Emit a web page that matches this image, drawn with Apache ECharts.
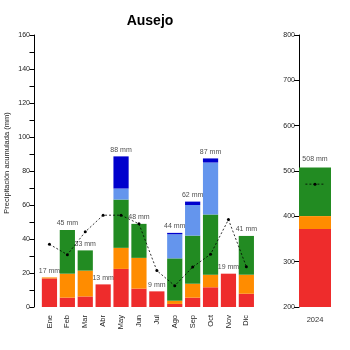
<!DOCTYPE html>
<html><head><meta charset="utf-8">
<script src="https://cdn.jsdelivr.net/npm/echarts@6/dist/echarts.min.js"></script>
<style>html,body{margin:0;padding:0;background:#fff}#c{width:350px;height:350px}</style>
</head><body><div id="c"></div>
<script>
const months = ['Ene','Feb','Mar','Abr','May','Jun','Jul','Ago','Sep','Oct','Nov','Dic'];
const red    = [16.8, 5.5, 6.2, 13.3, 22.4, 10.8, 9.2, 1.8, 5.5, 11.6, 19.6, 7.8];
const orange = [0.6, 14.1, 15.2, 0, 12.4, 18.1, 0, 1.9, 8.2, 7.4, 0, 11.2];
const green  = [0, 25.7, 11.9, 0, 28.4, 20.0, 0, 24.9, 28.3, 35.4, 0, 22.8];
const lblue  = [0, 0, 0, 0, 6.5, 0, 0, 14.2, 18.0, 30.6, 0, 0];
const dblue  = [0, 0, 0, 0, 18.9, 0, 0, 0.8, 2.0, 2.4, 0, 0];
const totalsLabel = [17, 45, 33, 13, 88, 48, 9, 44, 62, 87, 19, 41];
const normal = [36.9, 30.8, 44.2, 54.0, 54.0, 48.9, 21.4, 12.5, 23.5, 31.0, 51.4, 23.7];
const yearCat = ['2024'];
const yearRed = [372];
const yearOrange = [28.5];
const yearGreen = [107];
const yearTotalLabel = [508];
const yearNormal = 471;
const leftTicks = [0, 20, 40, 60, 80, 100, 120, 140, 160];
const rightTicks = [200, 300, 400, 500, 600, 700, 800];

const C = {red:'#EE2C2C', orange:'#FF8C00', green:'#228B22', lblue:'#6495ED', dblue:'#0000CD'};
const font = 'Liberation Sans, Arial, sans-serif';
const totals = months.map((m,i)=>red[i]+orange[i]+green[i]+lblue[i]+dblue[i]);
const yTotal = yearRed[0]+yearOrange[0]+yearGreen[0];

const chart = echarts.init(document.getElementById('c'), null, {renderer:'canvas'});
function bar(name, data, color, xi, yi, stack){
  return {type:'bar', name, data, stack, xAxisIndex:xi, yAxisIndex:yi,
    itemStyle:{color}, barCategoryGap: xi===0 ? '15%' : '0%', silent:true, animation:false};
}
chart.setOption({
  animation:false,
  title:{text:'Ausejo', left:145, top:9, textAlign:'center',
    textStyle:{fontFamily:font, fontWeight:'bold', fontSize:14, color:'#000'}},
  graphic:[{type:'text', x:7, y:163, rotation:Math.PI/2,
    style:{text:'Precipitación acumulada (mm)', font:'7.5px '+font, fill:'#222', align:'center', verticalAlign:'middle'}}],
  grid:[{left:40.5, top:35, width:214.8, height:272},
        {left:299, top:35, width:32, height:272}],
  xAxis:[
    {type:'category', gridIndex:0, data:months, axisLine:{show:false}, axisTick:{show:false},
     axisLabel:{rotate:90, fontSize:7.5, color:'#222', fontFamily:font, margin:8, interval:0}},
    {type:'category', gridIndex:1, data:yearCat, axisLine:{show:false}, axisTick:{show:false},
     axisLabel:{fontSize:7.5, color:'#333', fontFamily:font, margin:9}},
    {type:'value', gridIndex:1, min:0, max:1, show:false}
  ],
  yAxis:[
    {type:'value', gridIndex:0, min:leftTicks[0], max:leftTicks[leftTicks.length-1], interval:10, offset:6.5,
     splitLine:{show:false},
     axisLine:{show:true, lineStyle:{color:'#000', width:1}},
     axisTick:{show:true, length:4.5, lineStyle:{color:'#000'}},
     axisLabel:{fontSize:7, color:'#222', fontFamily:font, margin:4,
       formatter:v=>leftTicks.includes(v)?String(v):''}},
    {type:'value', gridIndex:1, min:rightTicks[0], max:rightTicks[rightTicks.length-1], interval:100,
     splitLine:{show:false},
     axisLine:{show:true, lineStyle:{color:'#000', width:1}},
     axisTick:{show:true, length:5, lineStyle:{color:'#000'}},
     axisLabel:{fontSize:7, color:'#222', fontFamily:font, margin:4,
       formatter:v=>rightTicks.includes(v)?String(v):''}}
  ],
  series:[
    bar('r', red, C.red, 0, 0, 'm'),
    bar('o', orange, C.orange, 0, 0, 'm'),
    bar('g', green, C.green, 0, 0, 'm'),
    bar('lb', lblue, C.lblue, 0, 0, 'm'),
    bar('db', dblue, C.dblue, 0, 0, 'm'),
    {type:'scatter', xAxisIndex:0, yAxisIndex:0, symbolSize:0, data:totals, silent:true,
     label:{show:true, position:'top', distance:3, fontSize:7, color:'#222', fontFamily:font,
       formatter:p=>totalsLabel[p.dataIndex]+' mm'}},
    {type:'line', xAxisIndex:0, yAxisIndex:0, data:normal, symbol:'circle', symbolSize:3,
     itemStyle:{color:'#000'}, lineStyle:{color:'#000', width:0.8, type:[2,2]}, silent:true, z:5},
    bar('yr', yearRed, C.red, 1, 1, 'y'),
    bar('yo', yearOrange, C.orange, 1, 1, 'y'),
    bar('yg', yearGreen, C.green, 1, 1, 'y'),
    {type:'scatter', xAxisIndex:1, yAxisIndex:1, symbolSize:0, data:[yTotal], silent:true,
     label:{show:true, position:'top', distance:5, fontSize:7, color:'#222', fontFamily:font,
       formatter:p=>yearTotalLabel[p.dataIndex]+' mm'}},
    {type:'line', xAxisIndex:2, yAxisIndex:1, silent:true, z:5,
     data:[{value:[0.2,yearNormal],symbol:'none'},{value:[0.5,yearNormal]},{value:[0.8,yearNormal],symbol:'none'}],
     symbol:'circle', symbolSize:3, itemStyle:{color:'#000'},
     lineStyle:{color:'#000', width:0.8, type:[2,2]}}
  ]
});
</script></body></html>
